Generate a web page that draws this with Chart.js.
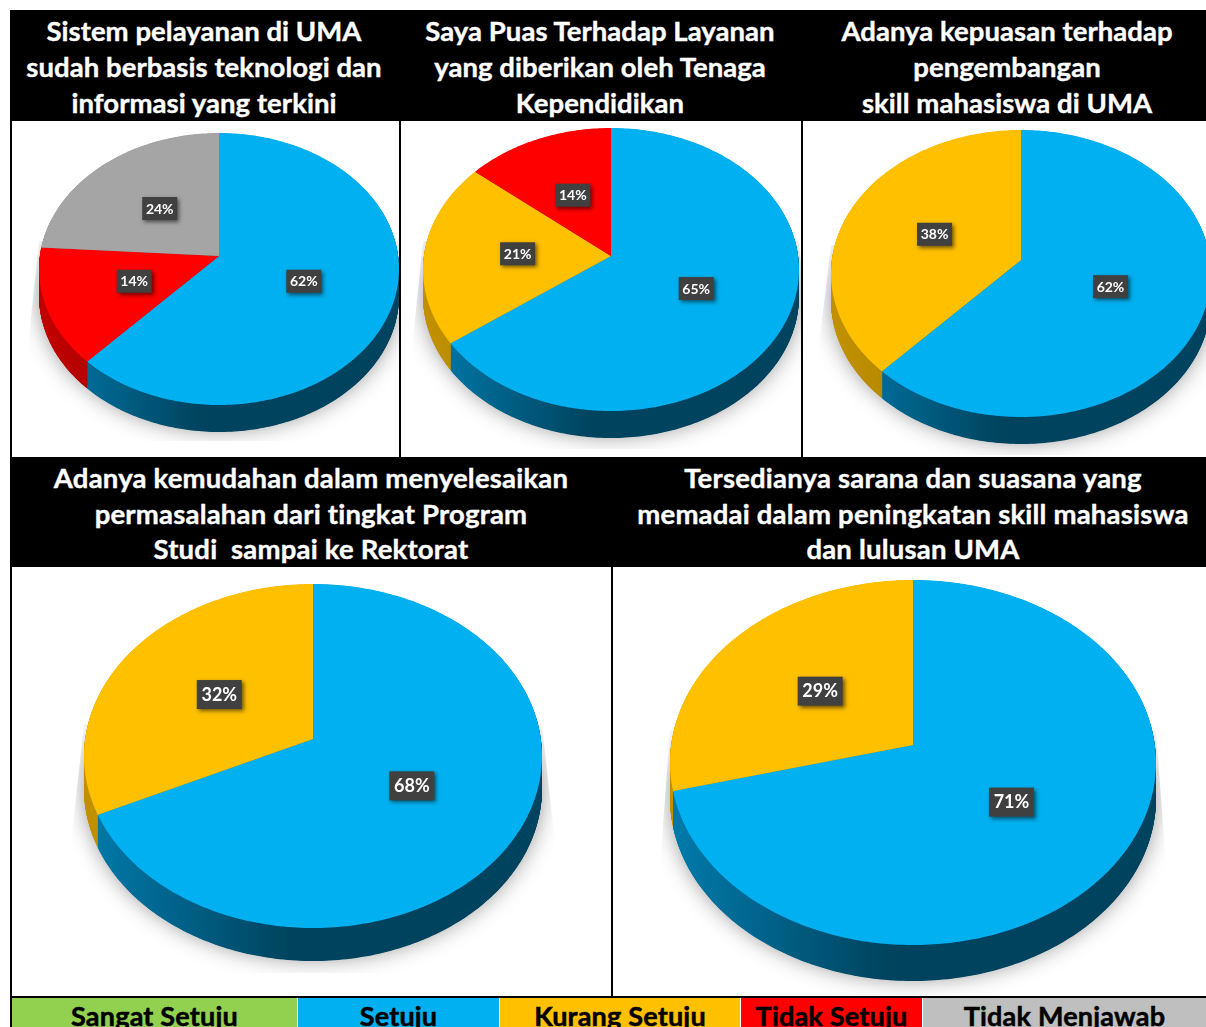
<!DOCTYPE html>
<html>
<head>
<meta charset="utf-8">
<script src="https://cdn.jsdelivr.net/npm/chart.js@4"></script>
<style>
    html, body { margin: 0; padding: 0; background: #fff; overflow: hidden; }
    #page { position: relative; width: 1206px; height: 1027px; overflow: hidden; font-family: Lato, sans-serif; }
    .band { position: absolute; left: 10px; width: 1196px; background: #000; }
    .line { position: absolute; background: #000; }
    .title {
        position: absolute;
        width: 600px;
        color: #fff;
        font-weight: 700;
        font-size: 27.5px;
        text-align: center;
        white-space: pre;
        -webkit-text-stroke: 0.4px #fff;
    }
    canvas { position: absolute; }
    .legend-cell {
        position: absolute;
        top: 998px;
        height: 40px;
        color: #000;
        font-weight: 700;
        font-size: 27px;
        line-height: 35px;
        letter-spacing: 0.2px;
        text-align: center;
        white-space: pre;
        -webkit-text-stroke: 0.5px #000;
    }
</style>
</head>
<body>
<div id="page"></div>
<script>
// Data
const categories = ['Sangat Setuju', 'Setuju', 'Kurang Setuju', 'Tidak Setuju', 'Tidak Menjawab'];
const faceColors = ['#92D050', '#00B0F0', '#FFC000', '#FF0000', '#A5A5A5'];
const legendColors = ['#92D050', '#00B0F0', '#FFC000', '#FF0000', '#BFBFBF'];
const sideLight = ['#5f8a35', '#0078A8', '#C09000', '#C00000', '#7a7a7a'];
const sideDark = ['#3f5c20', '#00435E', '#A07800', '#900000', '#5a5a5a'];

const values1 = [0, 62, 0, 14, 24];
const values2 = [0, 65, 21, 14, 0];
const values3 = [0, 62, 38, 0, 0];
const values4 = [0, 68, 32, 0, 0];
const values5 = [0, 71, 29, 0, 0];

const title1 = 'Sistem pelayanan di UMA\nsudah berbasis teknologi dan\ninformasi yang terkini';
const title2 = 'Saya Puas Terhadap Layanan\nyang diberikan oleh Tenaga\nKependidikan';
const title3 = 'Adanya kepuasan terhadap\npengembangan\nskill mahasiswa di UMA';
const title4 = 'Adanya kemudahan dalam menyelesaikan\npermasalahan dari tingkat Program\nStudi  sampai ke Rektorat';
const title5 = 'Tersedianya sarana dan suasana yang\nmemadai dalam peningkatan skill mahasiswa\ndan lulusan UMA';

// Layout in page pixels: cell box, apex of the pie, radii (the picture is in perspective, so up != down)
const panels = [
    { values: values1, title: title1, titleX: 204, titleY: 13, lineH: 36, spacing: 0.05, box: [12, 121, 387, 336], cx: 219, cy: 256, rx: 180, up: 123, down: 149, depth: 27, label: 14, boxW: 35, boxH: 23, shadow: [28, 441] },
    { values: values2, title: title2, titleX: 600, titleY: 13, lineH: 36, spacing: 0.05, box: [401, 121, 400, 336], cx: 611, cy: 256, rx: 188, up: 128, down: 155, depth: 27, label: 14, boxW: 35, boxH: 23, shadow: [412, 449] },
    { values: values3, title: title3, titleX: 1007, titleY: 13, lineH: 36, spacing: 0.05, box: [803, 121, 403, 336], cx: 1021, cy: 260, rx: 190, up: 130, down: 157, depth: 27, label: 14, boxW: 35, boxH: 23, shadow: [818, 455] },
    { values: values4, title: title4, titleX: 311, titleY: 460, lineH: 35.5, spacing: 0.2, box: [12, 567, 599, 429], cx: 313, cy: 739, rx: 229, up: 155, down: 189, depth: 33, label: 18, boxW: 45, boxH: 29, shadow: [70, 973] },
    { values: values5, title: title5, titleX: 913, titleY: 460, lineH: 35.5, spacing: 0.2, box: [613, 567, 593, 429], cx: 913, cy: 745, rx: 243, up: 165, down: 200, depth: 36, label: 18, boxW: 45, boxH: 29, shadow: [660, 995] },
];

const legendEdges = [12, 298, 500, 741, 923, 1206];

const page = document.getElementById('page');

function addDiv(className, css, text) {
    const el = document.createElement('div');
    el.className = className;
    el.style.cssText = css;
    if (text) el.textContent = text;
    page.appendChild(el);
    return el;
}

// Frame and title bands
addDiv('band', 'top:10px;height:111px');
addDiv('band', 'top:457px;height:110px');
addDiv('line', 'left:10px;top:10px;width:2px;height:1017px');
addDiv('line', 'left:399px;top:121px;width:2px;height:336px');
addDiv('line', 'left:801px;top:121px;width:2px;height:336px');
addDiv('line', 'left:611px;top:567px;width:2px;height:429px');
addDiv('line', 'left:10px;top:996px;width:1196px;height:2px');

panels.forEach((p) => {
    addDiv('title', `left:${p.titleX - 300}px;top:${p.titleY}px;line-height:${p.lineH}px;letter-spacing:${p.spacing}px`, p.title);
});

categories.forEach((name, i) => {
    const left = legendEdges[i];
    const width = legendEdges[i + 1] - left - (i < 4 ? 1 : 0);
    addDiv('legend-cell', `left:${left}px;width:${width}px;background:${legendColors[i]}`, name);
});

// Perspective map: unit disc of the flat pie -> tilted top face, in canvas pixels
function project(p, u, v, dy) {
    const k = (p.up - p.down) / (p.up + p.down);
    const w = 1 + k * v;
    return {
        x: p.cx - p.box[0] + p.rx * Math.sqrt(1 - k * k) * u / w,
        y: p.cy - p.box[1] + dy + p.up * (1 - k) * v / w,
    };
}

// Sector path from the angles the library computed for this arc
function sectorPath(ctx, arc, p, dy) {
    const apex = project(p, 0, 0, dy);
    const steps = Math.max(2, Math.ceil(arc.circumference * 60));
    ctx.beginPath();
    ctx.moveTo(apex.x, apex.y);
    for (let s = 0; s <= steps; s++) {
        const a = arc.startAngle + (arc.endAngle - arc.startAngle) * s / steps;
        const pt = project(p, Math.cos(a), Math.sin(a), dy);
        ctx.lineTo(pt.x, pt.y);
    }
    ctx.closePath();
}

function drawShadow(ctx, arcs, p) {
    const cx = p.cx - p.box[0];
    const cy = p.cy - p.box[1];
    const left = p.shadow[0] - p.box[0];
    const right = 2 * cx - left;
    const bottom = p.shadow[1] - p.box[1];
    ctx.save();
    ctx.beginPath();
    ctx.moveTo(cx - p.rx, cy - 15);
    ctx.lineTo(left, cy + p.down * 0.6);
    ctx.lineTo(left, bottom);
    ctx.lineTo(right, bottom);
    ctx.lineTo(right, cy + p.down * 0.6);
    ctx.lineTo(cx + p.rx, cy - 15);
    ctx.closePath();
    ctx.clip();
    const off = 2000;
    ctx.shadowColor = 'rgba(0,0,0,0.42)';
    ctx.shadowBlur = 22;
    ctx.shadowOffsetX = off;
    ctx.shadowOffsetY = 0;
    ctx.fillStyle = '#000';
    ctx.translate(-off, 0);
    arcs.forEach((arc) => {
        if (arc.circumference <= 0) return;
        sectorPath(ctx, arc, p, p.depth - 2);
        ctx.fill();
    });
    ctx.restore();
}

function drawSides(ctx, arcs, p) {
    const x0 = p.cx - p.box[0];
    for (let dy = p.depth; dy > 0; dy -= 0.5) {
        arcs.forEach((arc, i) => {
            if (arc.circumference <= 0) return;
            const grad = ctx.createLinearGradient(x0 - p.rx * 0.95, 0, x0 - p.rx * 0.1, 0);
            grad.addColorStop(0, sideLight[i]);
            grad.addColorStop(1, sideDark[i]);
            ctx.fillStyle = grad;
            sectorPath(ctx, arc, p, dy);
            ctx.fill();
        });
    }
}

function drawFace(ctx, arcs, p) {
    arcs.forEach((arc) => {
        if (arc.circumference <= 0) return;
        ctx.fillStyle = arc.options.backgroundColor;
        sectorPath(ctx, arc, p, 0);
        ctx.fill();
    });
}

function drawLabels(ctx, arcs, p) {
    arcs.forEach((arc, i) => {
        const value = p.values[i];
        if (!value) return;
        const c = arc.getCenterPoint();
        const r = arc.outerRadius;
        const pt = project(p, (c.x - arc.x) / r, (c.y - arc.y) / r, 0);
        ctx.save();
        ctx.shadowColor = 'rgba(0,0,0,0.55)';
        ctx.shadowBlur = 4;
        ctx.shadowOffsetX = 2;
        ctx.shadowOffsetY = 2;
        ctx.fillStyle = '#404040';
        ctx.fillRect(pt.x - p.boxW / 2, pt.y - p.boxH / 2, p.boxW, p.boxH);
        ctx.restore();
        ctx.fillStyle = '#fff';
        ctx.font = `700 ${p.label}px Lato, sans-serif`;
        ctx.textAlign = 'center';
        ctx.textBaseline = 'middle';
        ctx.fillText(value + '%', pt.x, pt.y + 0.5);
    });
}

const tiltedPie = {
    id: 'tiltedPie',
    beforeDatasetsDraw(chart, args, opts) {
        const ctx = chart.ctx;
        const arcs = chart.getDatasetMeta(0).data;
        drawShadow(ctx, arcs, opts.panel);
        drawSides(ctx, arcs, opts.panel);
        drawFace(ctx, arcs, opts.panel);
        drawLabels(ctx, arcs, opts.panel);
        return false;
    },
};

panels.forEach((p) => {
    const canvas = document.createElement('canvas');
    canvas.width = p.box[2];
    canvas.height = p.box[3];
    canvas.style.left = p.box[0] + 'px';
    canvas.style.top = p.box[1] + 'px';
    page.appendChild(canvas);

    new Chart(canvas, {
        type: 'pie',
        data: {
            labels: categories,
            datasets: [{ data: p.values, backgroundColor: faceColors, borderWidth: 0 }],
        },
        options: {
            responsive: false,
            animation: false,
            layout: { padding: 0 },
            plugins: {
                legend: { display: false },
                tooltip: { enabled: false },
                tiltedPie: { panel: p },
            },
        },
        plugins: [tiltedPie],
    });
});
</script>
</body>
</html>
